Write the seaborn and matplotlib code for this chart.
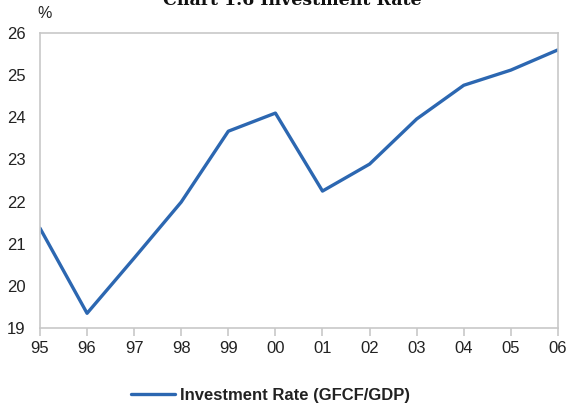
import pandas as pd
import matplotlib.pyplot as plt
import seaborn as sns

years = [1995, 1996, 1997, 1998, 1999, 2000, 2001, 2002, 2003, 2004, 2005, 2006]
year_labels = ["95", "96", "97", "98", "99", "00", "01", "02", "03", "04", "05", "06"]
investment_rate = [21.37, 19.35, 20.66, 21.99, 23.67, 24.10, 22.25, 22.89, 23.96, 24.76, 25.12, 25.60]
y_ticks = [19, 20, 21, 22, 23, 24, 25, 26]

sns.set_style("white")
plt.rcParams['font.family'] = ['Liberation Sans', 'DejaVu Sans']

df = pd.DataFrame({"year": years, "rate": investment_rate})

fig = plt.figure(figsize=(5.67, 4.05), dpi=100)
ax = fig.add_axes([0.0705, 0.19, 0.9135, 0.7285])

sns.lineplot(data=df, x="year", y="rate", ax=ax, color="#2C67B1", linewidth=2.4,
             label="Investment Rate (GFCF/GDP)")

ax.set_xlim(years[0], years[-1])
ax.set_ylim(19, 26)
ax.set_xticks(years)
ax.set_xticklabels(year_labels)
ax.set_yticks(y_ticks)
ax.set_xlabel("")
ax.set_ylabel("")

for s in ax.spines.values():
    s.set_color("#C8C8C8")
    s.set_linewidth(1.2)

ax.tick_params(axis="x", which="both", bottom=True, length=6, width=1.2, color="#C8C8C8",
               labelsize=12, labelcolor="#222222", pad=3)
ax.tick_params(axis="y", left=False, labelsize=12, labelcolor="#222222", pad=7)

ax.text(-0.005, 1.04, "%", transform=ax.transAxes, fontsize=11.5, color="#222222",
        ha="left", va="bottom")

fig.text(0.515, 0.988, "Chart 1.6 Investment Rate", family="DejaVu Serif",
         fontsize=12.5, fontweight="bold", ha="center", va="baseline", color="#111111")

leg = ax.legend(loc="center", bbox_to_anchor=(0.445, -0.228), frameon=False,
                fontsize=12, handlelength=2.6, handletextpad=0.3, borderpad=0)
for t in leg.get_texts():
    t.set_fontweight("bold")
    t.set_color("#222222")

fig.savefig("out.png", dpi=100)
